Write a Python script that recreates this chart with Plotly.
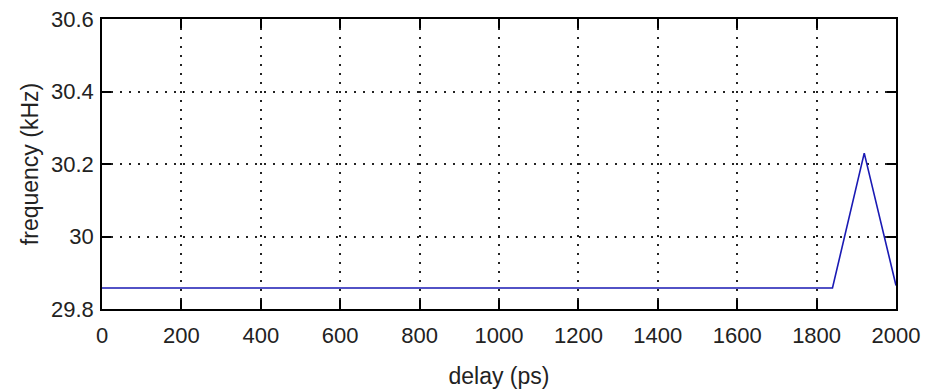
import plotly.graph_objects as go

delay_ps = [0, 1840, 1920, 2000]
frequency_khz = [29.858, 29.858, 30.23, 29.865]
x_ticks = [0, 200, 400, 600, 800, 1000, 1200, 1400, 1600, 1800, 2000]
y_ticks = [29.8, 30.0, 30.2, 30.4, 30.6]
y_tick_labels = ["29.8", "30", "30.2", "30.4", "30.6"]

FONT = "Liberation Sans, Arial, sans-serif"

fig = go.Figure()
fig.add_trace(go.Scatter(x=delay_ps, y=frequency_khz, mode="lines",
                         line=dict(color="#1a1ab4", width=1.6), showlegend=False))

axis_common = dict(showline=True, linecolor="black", linewidth=1.6, mirror="ticks",
                   ticks="inside", ticklen=9, tickcolor="black", tickwidth=1.6,
                   showgrid=True, gridcolor="#222", gridwidth=1.6, griddash="1.6px,7.4px",
                   zeroline=False, automargin=False,
                   tickfont=dict(family=FONT, size=22, color="#222"))

fig.update_xaxes(range=[0, 2000], tickvals=x_ticks, ticklabelstandoff=6,
                 title=dict(text="delay (ps)", font=dict(family=FONT, size=23, color="#222"), standoff=21),
                 **axis_common)
fig.update_yaxes(range=[29.8, 30.6], tickvals=y_ticks, ticktext=y_tick_labels, ticklabelstandoff=2,
                 title=dict(text="frequency (kHz)", font=dict(family=FONT, size=23, color="#222"), standoff=6),
                 **axis_common)

fig.update_layout(width=934, height=390, margin=dict(l=102, r=38, t=19, b=81),
                  plot_bgcolor="white", paper_bgcolor="white")
fig.write_html("out.html", post_script="document.body.style.margin='0';",
               config={"displayModeBar": False})
